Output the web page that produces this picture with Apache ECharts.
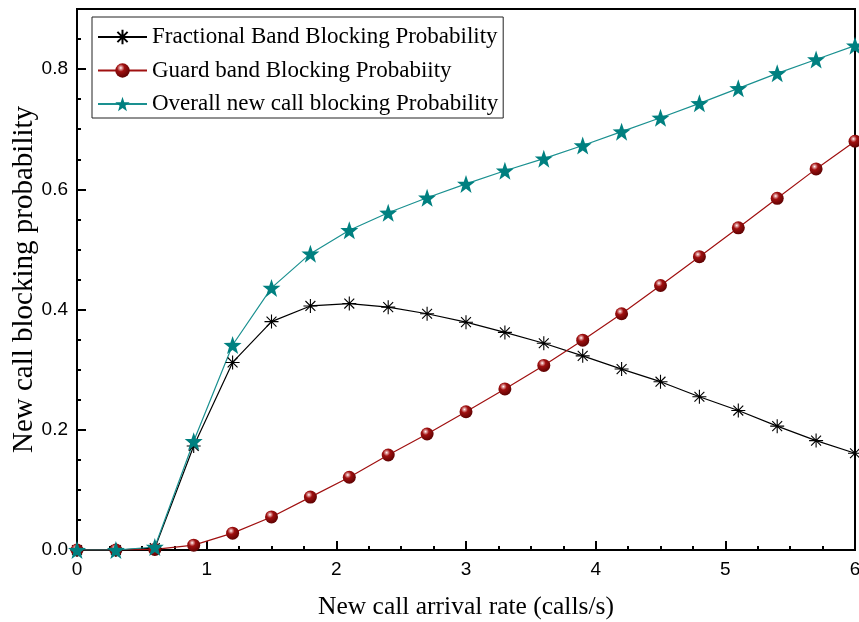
<!DOCTYPE html>
<html>
<head>
<meta charset="utf-8">
<script src="https://cdn.jsdelivr.net/npm/echarts@6/dist/echarts.min.js"></script>
<style>
html,body{margin:0;padding:0;background:#fff;}
#chart{width:859px;height:622px;}
</style>
</head>
<body>
<div id="chart"></div>
<script>
const arrivalRate = [0, 0.3, 0.6, 0.9, 1.2, 1.5, 1.8, 2.1, 2.4, 2.7, 3.0, 3.3, 3.6, 3.9, 4.2, 4.5, 4.8, 5.1, 5.4, 5.7, 6.0];
const fractionalBand = [0, 0, 0.003, 0.173, 0.312, 0.380, 0.406, 0.410, 0.404, 0.393, 0.379, 0.362, 0.344, 0.323, 0.301, 0.280, 0.255, 0.232, 0.206, 0.182, 0.161];
const guardBand = [0, 0, 0.001, 0.008, 0.028, 0.055, 0.088, 0.121, 0.158, 0.193, 0.230, 0.268, 0.307, 0.349, 0.393, 0.440, 0.488, 0.536, 0.585, 0.634, 0.680];
const overall = [0, 0, 0.005, 0.181, 0.341, 0.436, 0.493, 0.532, 0.561, 0.586, 0.609, 0.631, 0.651, 0.673, 0.696, 0.719, 0.743, 0.768, 0.793, 0.816, 0.839];
const seriesNames = ['Fractional Band Blocking Probability', 'Guard band Blocking Probabiity', 'Overall new call blocking Probability'];
const xTitle = 'New call arrival rate (calls/s)';
const yTitle = 'New call blocking probability';

const pairs = (ys) => arrivalRate.map((x, i) => [x, ys[i]]);

const asterisk = 'path://M0,-10L0,10M-10,0L10,0M-7.07,-7.07L7.07,7.07M-7.07,7.07L7.07,-7.07';
const star = 'path://M0,-10L2.35,-3.24L9.51,-3.09L3.8,1.24L5.88,8.09L0,4L-5.88,8.09L-3.8,1.24L-9.51,-3.09L-2.35,-3.24Z';
const ball = {
  type: 'radial', x: 0.38, y: 0.32, r: 0.75,
  colorStops: [
    {offset: 0, color: '#ffffff'},
    {offset: 0.12, color: '#e2a0a0'},
    {offset: 0.35, color: '#a01010'},
    {offset: 1, color: '#550000'}
  ]
};

const chart = echarts.init(document.getElementById('chart'), null, {renderer: 'canvas'});
chart.setOption({
  animation: false,
  backgroundColor: '#ffffff',
  grid: {left: 77, right: 4, top: 9, bottom: 72, show: true, borderColor: '#000', borderWidth: 2,
    backgroundColor: 'transparent', containLabel: false, outerBoundsMode: 'none'},
  legend: {
    orient: 'vertical', left: 92, top: 17,
    itemWidth: 49, itemHeight: 18, itemGap: 9.5,
    padding: [8, 5, 2, 5],
    borderColor: '#222', borderWidth: 1,
    textStyle: {fontFamily: 'Liberation Serif', fontSize: 23, color: '#000', lineHeight: 24},
    data: seriesNames
  },
  xAxis: {
    type: 'value', min: 0, max: 6, interval: 1,
    name: xTitle, nameLocation: 'middle', nameGap: 44, nameMoveOverlap: false,
    nameTextStyle: {fontFamily: 'Liberation Serif', fontSize: 25.5, color: '#000'},
    axisLine: {show: true, lineStyle: {color: '#000', width: 2}},
    axisTick: {show: true, inside: true, length: 9, lineStyle: {color: '#000', width: 2}},
    minorTick: {show: true, splitNumber: 4, length: 4, lineStyle: {color: '#000', width: 2}},
    axisLabel: {fontFamily: 'Liberation Sans', fontSize: 19, color: '#000', margin: 10},
    splitLine: {show: false}
  },
  yAxis: [{
    type: 'value', min: 0, max: 0.9, interval: 0.2, position: 'left',
    name: yTitle, nameLocation: 'middle', nameGap: 38, nameMoveOverlap: false,
    nameTextStyle: {fontFamily: 'Liberation Serif', fontSize: 29, color: '#000'},
    axisLine: {show: true, lineStyle: {color: '#000', width: 2}},
    axisTick: {show: true, inside: true, length: 9, lineStyle: {color: '#000', width: 2}},
    axisLabel: {fontFamily: 'Liberation Sans', fontSize: 19, color: '#000', margin: 9, showMaxLabel: false,
      formatter: (v) => (Math.abs(v / 0.2 - Math.round(v / 0.2)) < 1e-6 ? v.toFixed(1) : '')},
    splitLine: {show: false}
  }, {
    type: 'value', min: 0, max: 0.9, interval: 0.05, position: 'left',
    axisLine: {show: false},
    axisTick: {show: true, inside: true, length: 4, lineStyle: {color: '#000', width: 2}},
    axisLabel: {show: false},
    splitLine: {show: false}
  }],
  series: [{
    name: seriesNames[0], type: 'line', data: pairs(fractionalBand),
    symbol: asterisk, symbolSize: 14, showAllSymbol: true,
    lineStyle: {color: '#000', width: 1.2},
    itemStyle: {color: '#000', borderColor: '#000', borderWidth: 1.1}
  }, {
    name: seriesNames[1], type: 'line', data: pairs(guardBand),
    symbol: 'circle', symbolSize: 13, showAllSymbol: true,
    lineStyle: {color: '#a01010', width: 1.2},
    itemStyle: {color: ball, borderWidth: 0}
  }, {
    name: seriesNames[2], type: 'line', data: pairs(overall),
    symbol: star, symbolSize: 18, showAllSymbol: true,
    lineStyle: {color: '#1a9090', width: 1.2},
    itemStyle: {color: '#008080', borderWidth: 0}
  }]
});
</script>
</body>
</html>
